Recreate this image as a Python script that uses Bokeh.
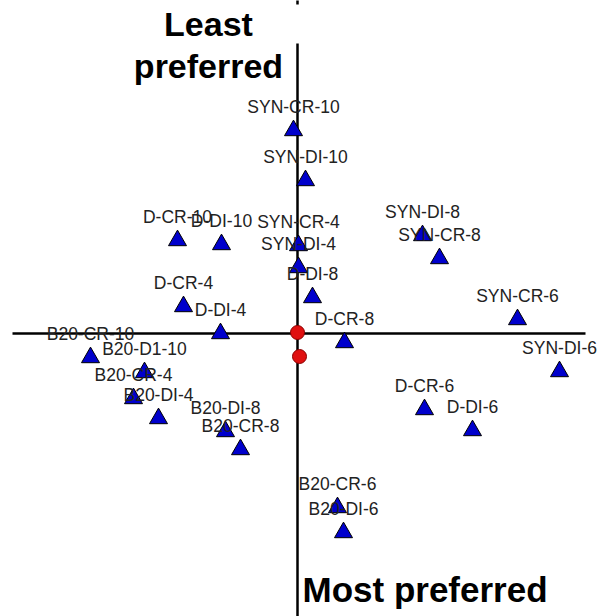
from bokeh.plotting import figure
from bokeh.models import ColumnDataSource
from bokeh.core.properties import value
from bokeh.embed import file_html
from bokeh.resources import INLINE

# Sample names and their biplot scores (dimension 1, dimension 2)
labels = ["SYN-CR-10", "SYN-DI-10", "D-CR-10", "D-DI-10", "SYN-CR-4", "SYN-DI-4",
          "SYN-DI-8", "SYN-CR-8", "D-DI-8", "D-CR-4", "D-DI-4", "SYN-CR-6",
          "D-CR-8", "SYN-DI-6", "D-CR-6", "D-DI-6", "B20-CR-10", "B20-D1-10",
          "B20-CR-4", "B20-DI-4", "B20-DI-8", "B20-CR-8", "B20-CR-6", "B20-DI-6"]
dim1 = [-0.04, 0.08, -1.20, -0.76, 0.01, 0.01,
        1.25, 1.42, 0.15, -1.14, -0.77, 2.20,
        0.47, 2.62, 1.27, 1.75, -2.07, -1.53,
        -1.64, -1.39, -0.72, -0.57, 0.40, 0.46]
dim2 = [2.03, 1.53, 0.93, 0.89, 0.88, 0.66,
        0.98, 0.75, 0.36, 0.27, 0.00, 0.14,
        -0.09, -0.38, -0.76, -0.97, -0.24, -0.39,
        -0.65, -0.85, -0.98, -1.16, -1.74, -1.99]

# Red reference points near the origin
ref_dim1 = [0.00, 0.02]
ref_dim2 = [0.01, -0.23]

top_title = ["Least", "preferred"]
bottom_title = "Most preferred"

p = figure(width=597, height=616, output_backend="svg", toolbar_location=None,
           x_range=(-2.97, 3.00), y_range=(-2.83, 3.33),
           x_axis_type=None, y_axis_type=None, min_border=0,
           background_fill_color="white", border_fill_color="white")
p.grid.visible = False
p.outline_line_color = None

# axes lines through the origin (gap at the top behind the title)
p.segment(x0=[-2.85], y0=[0], x1=[2.88], y1=[0], line_color="black", line_width=2.5)
p.segment(x0=[0, 0], y0=[2.90, 3.40], x1=[0, 0], y1=[-2.90, 3.29],
          line_color="black", line_width=2.5)

src = ColumnDataSource(dict(x=dim1, y=dim2, name=labels))
p.scatter("x", "y", source=src, marker="triangle", size=18,
          fill_color="#0000cc", line_color="black", line_width=1)
p.text("x", "y", text="name", source=src, text_align="center",
       text_baseline="alphabetic", y_offset=-24,
       text_font=value("Liberation Sans"), text_font_size="17.5px",
       text_color="#222222")

p.scatter(ref_dim1, ref_dim2, marker="circle", size=14,
          fill_color="#e01010", line_color="#8a0000", line_width=1)

p.text(x=[-0.89, -0.89], y=[3.095, 2.675], text=top_title, text_align="center",
       text_baseline="alphabetic", text_font=value("Liberation Sans"),
       text_font_style="bold", text_font_size="34px", text_color="black")
p.text(x=[0.05], y=[-2.555], text=[bottom_title], text_align="left",
       text_baseline="alphabetic", text_font=value("Liberation Sans"),
       text_font_style="bold", text_font_size="35px", text_color="black")

open("out.html", "w").write(file_html(p, INLINE))
